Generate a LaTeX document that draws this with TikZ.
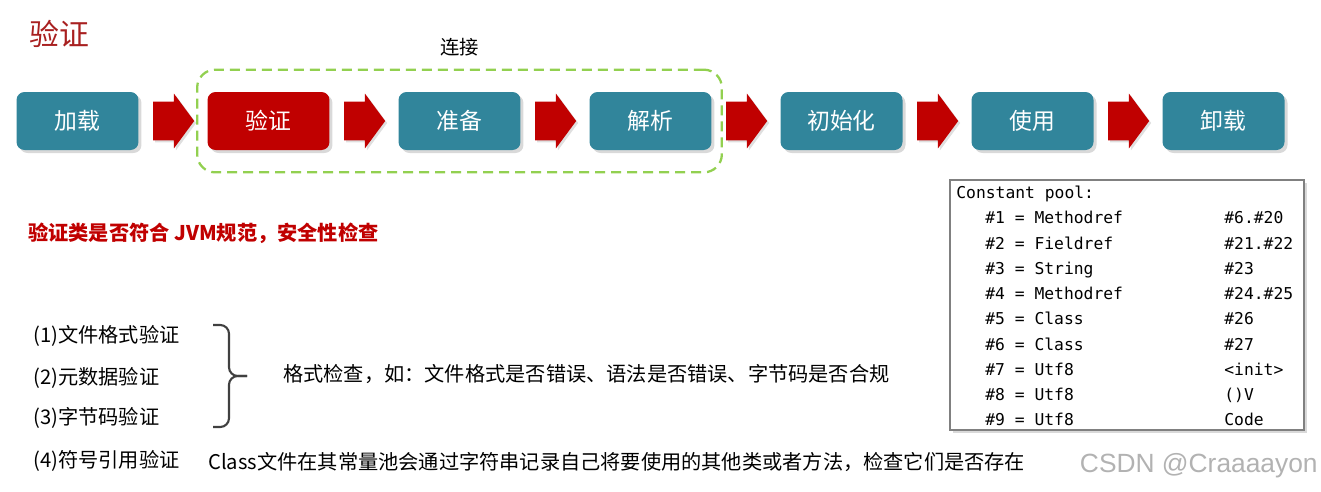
\documentclass[tikz,border=0pt]{standalone}
\usepackage{fontspec}
\setmainfont{Noto Sans CJK SC}
\newfontfamily\codefont{DejaVu Sans Mono}
\newfontfamily\markfont{Liberation Sans}
\usetikzlibrary{positioning, shapes.arrows, shadows, fit, calc}
\definecolor{stageblue}{RGB}{49,133,155}
\definecolor{stagered}{RGB}{192,0,0}
\definecolor{titlered}{RGB}{168,32,32}
\definecolor{linkgreen}{RGB}{146,208,80}

\tikzset{
  stage/.style={rounded corners=0.16cm, minimum width=2.44cm, minimum height=1.16cm,
    text=white, font=\fontsize{13}{15}\selectfont,
    drop shadow={opacity=0.3, shadow xshift=0.06cm, shadow yshift=-0.06cm}},
  flowarrow/.style={single arrow, fill=stagered, inner xsep=0pt, inner ysep=0.38cm,
    minimum height=0.82cm, single arrow head extend=0.16cm, single arrow tip angle=107,
    anchor=tail, drop shadow={opacity=0.25, shadow xshift=0.04cm, shadow yshift=-0.04cm}},
  linkbox/.style={draw=linkgreen, line width=1.3pt, dash pattern=on 0.2cm off 0.12cm,
    rounded corners=0.36cm, inner xsep=0.2cm, inner ysep=0.44cm},
  bodytext/.style={anchor=west, inner sep=0pt, font=\fontsize{11.5}{14}\selectfont},
  code/.style={anchor=west, inner sep=0pt, text height=0.75em, text depth=0.2em,
    font=\codefont\fontsize{9.3}{11}\selectfont},
  codeframe/.style={draw=black!50, fill=white, line width=0.8pt,
    drop shadow={opacity=0.3, shadow xshift=0.05cm, shadow yshift=-0.05cm}}
}

\begin{document}
\begin{tikzpicture}[x=0.02cm, y=-0.02cm]
  \useasboundingbox (0,0) rectangle (1321,491);
  \node[anchor=west, inner sep=0pt, text=titlered, font=\fontsize{17}{20}\selectfont] (title) at (29,34) {验证};

  % stages of class loading
  \foreach \name/\txt/\col [count=\i] in {load/加载/stageblue, verify/验证/stagered,
      prepare/准备/stageblue, parse/解析/stageblue, init/初始化/stageblue,
      use/使用/stageblue, unload/卸载/stageblue}
    \node[stage, fill=\col] (\name) at ({77.5+191*(\i-1)},121) {\txt};
  \foreach \a/\b in {load/verify, verify/prepare, prepare/parse, parse/init, init/use, use/unload}
    \node[flowarrow] (arr-\a) at ($(\a.east)+(14,0)$) {};

  \node[linkbox, fit=(verify)(parse)] (link) {};
  \node[above=0.12cm of link, font=\fontsize{11}{13}\selectfont] (linklabel) {连接};

  \node[bodytext, text=stagered, font=\bfseries\fontsize{11.5}{14}\selectfont] (rule) at (28,233)
    {验证类是否符合 JVM规范，安全性检查};

  % the four checks
  \node[bodytext] (fmt)  at (33,336) {(1)文件格式验证};
  \node[bodytext] (meta) at (33,378) {(2)元数据验证};
  \node[bodytext] (byte) at (33,418) {(3)字节码验证};
  \node[bodytext] (sym)  at (33,461) {(4)符号引用验证};
  \draw[line width=1.2pt, black!75, rounded corners=5] (213,325) -- (229,325) -- (229,376) -- (247,376);
  \draw[line width=1.2pt, black!75, rounded corners=5] (247,376) -- (229,376) -- (229,427) -- (213,427);
  \node[bodytext] (fmtnote) at (283,374) {格式检查，如：文件格式是否错误、语法是否错误、字节码是否合规};
  \node[bodytext] (symnote) at (208,462) {Class文件在其常量池会通过字符串记录自己将要使用的其他类或者方法，检查它们是否存在};

  % constant pool listing
  \draw[codeframe] (950,180) rectangle (1304,430);
  \node[code] (pool) at (956,194) {Constant pool:};
  \foreach \kind/\val [count=\k] in {Methodref/\#6.\#20, Fieldref/\#21.\#22, String/\#23,
      Methodref/\#24.\#25, Class/\#26, Class/\#27, Utf8/<init>, Utf8/()V, Utf8/Code}{
    \node[code] (entry\k) at (985,{219+25.25*(\k-1)}) {\#\k{} = \kind};
    \node[code] (value\k) at (1224,{219+25.25*(\k-1)}) {\val};
  }

  \node[anchor=east, inner sep=0pt, text=black!30, font=\markfont\fontsize{15}{18}\selectfont] (mark) at (1318,466) {CSDN @Craaaayon};
\end{tikzpicture}
\end{document}
